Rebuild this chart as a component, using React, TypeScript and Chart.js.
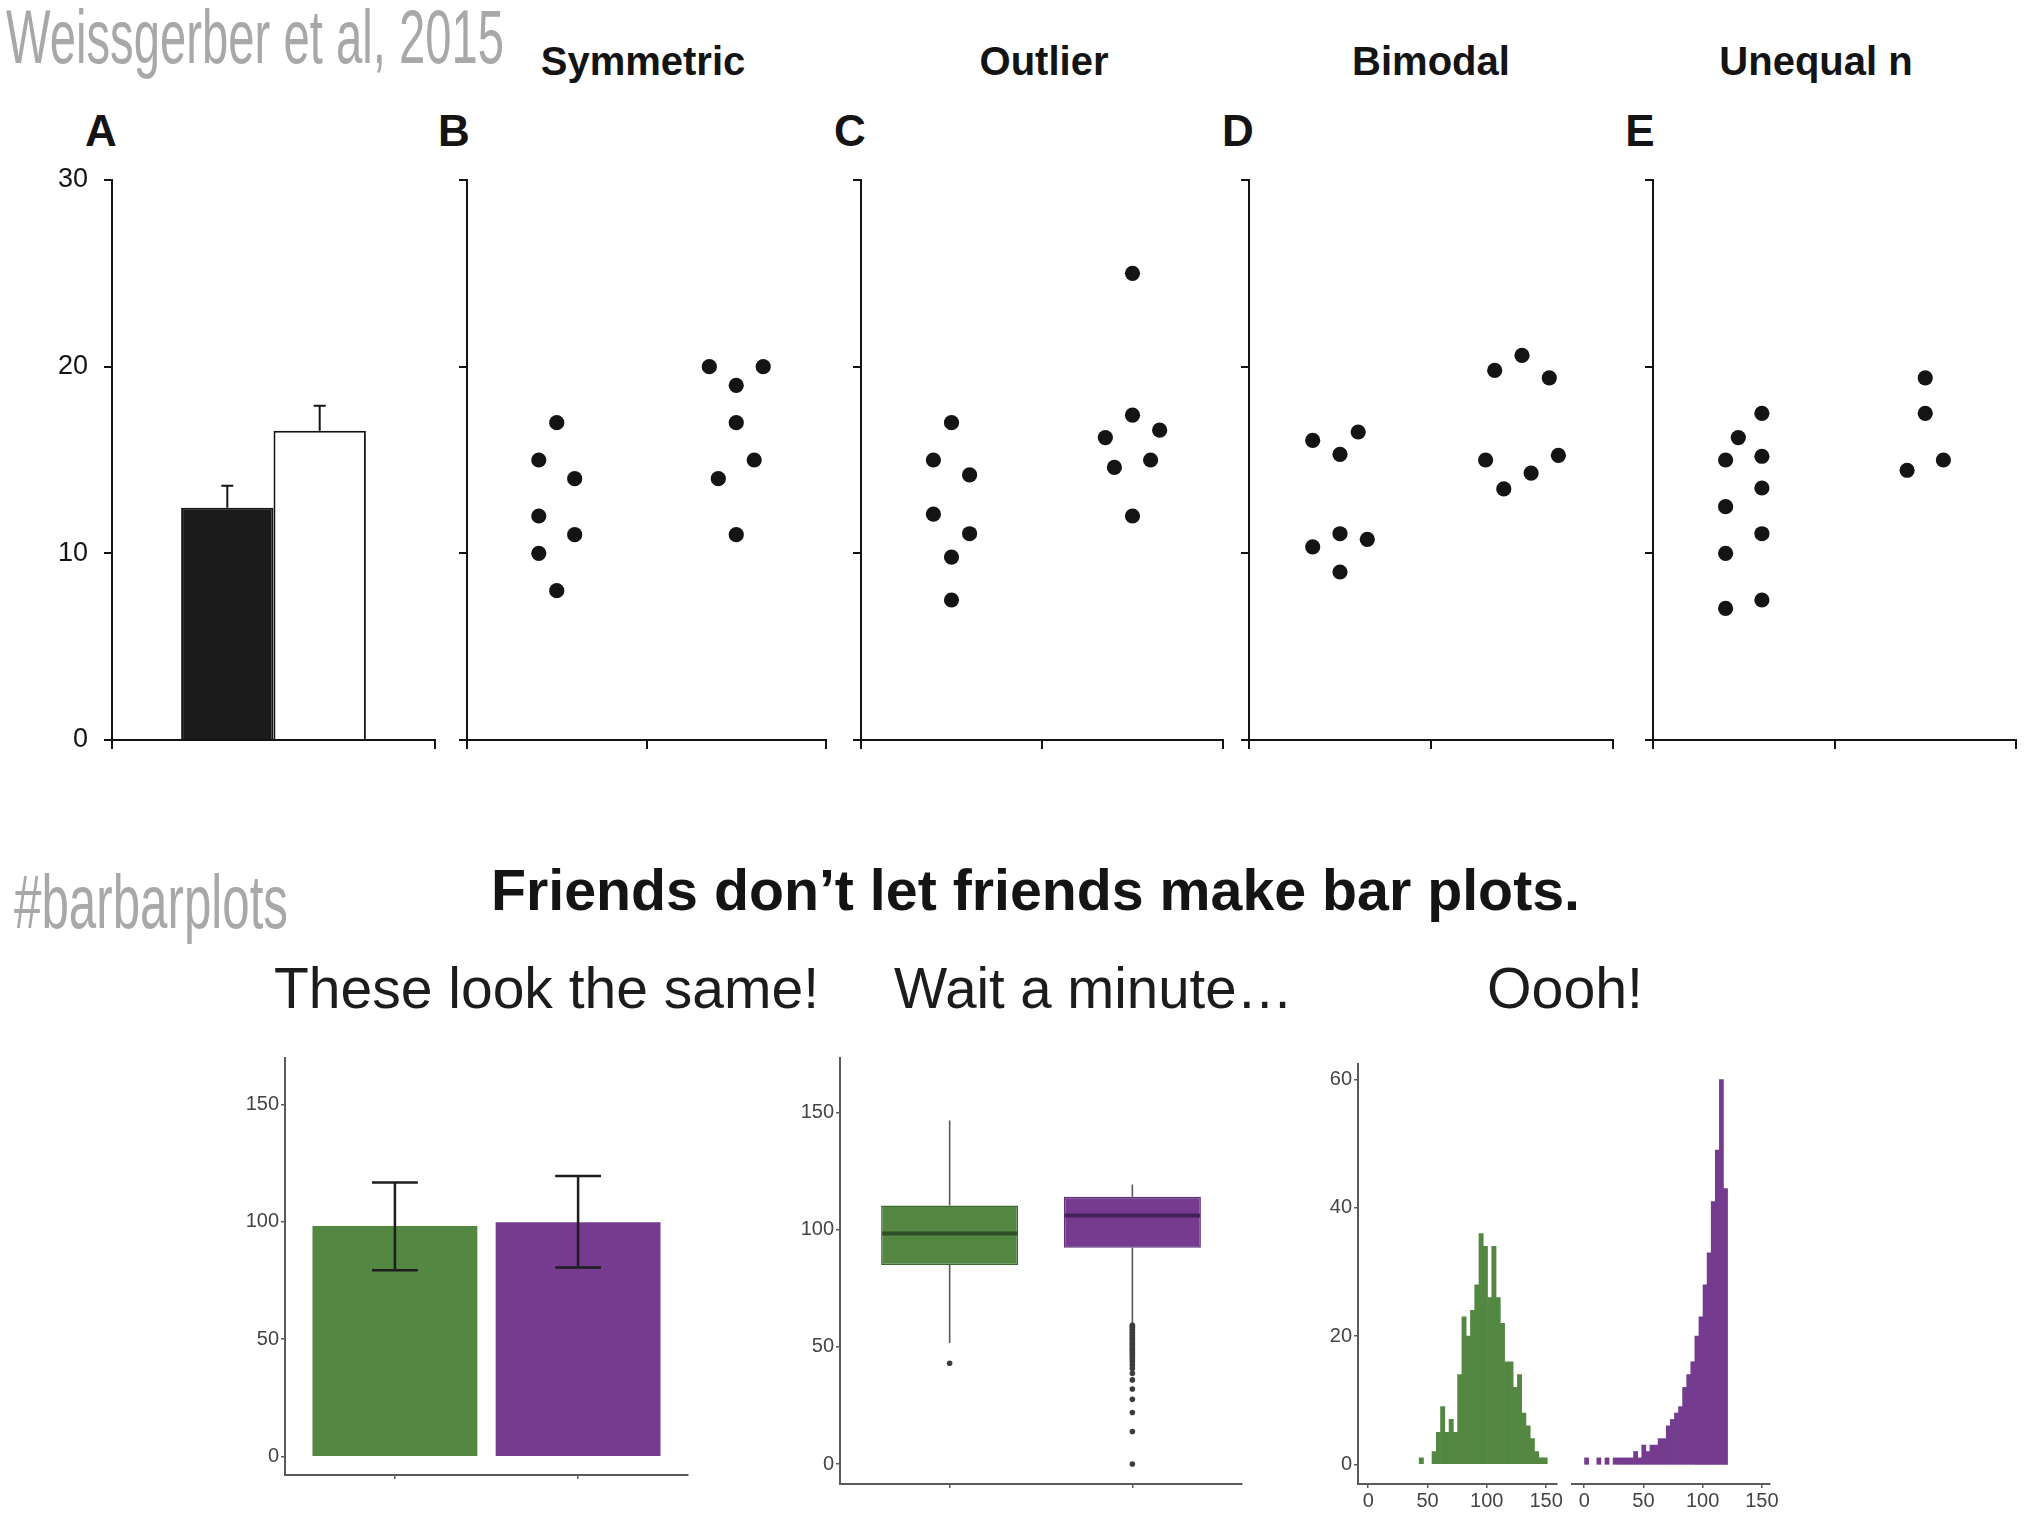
import React, { useEffect, useRef } from "react";
import { Chart, registerables } from "chart.js";

Chart.register(...registerables);

// ---------------- DATA ----------------
const topYTicks = [0, 10, 20, 30];
const scatterXTicks = [0, 1, 2];
const panelTitles = ["Symmetric", "Outlier", "Bimodal", "Unequal n"];
const panelLetters = ["A", "B", "C", "D", "E"];

// Panel A: mean bars with upward SE
const barAGroups = ["Group 1", "Group 2"];
const barAMeans = [12.44, 16.57];
const barASE = [1.18, 1.34];

// Panels B–E: [x (category position with jitter), y]
const symmetricPoints: [number, number][] = [
  [0.5, 17], [0.4, 15], [0.6, 14], [0.4, 12], [0.6, 11], [0.4, 10], [0.5, 8],
  [1.35, 20], [1.65, 20], [1.5, 19], [1.5, 17], [1.6, 15], [1.4, 14], [1.5, 11],
];
const outlierPoints: [number, number][] = [
  [0.5, 17], [0.4, 15], [0.6, 14.2], [0.4, 12.1], [0.6, 11.05], [0.5, 9.8], [0.5, 7.5],
  [1.5, 25], [1.5, 17.4], [1.35, 16.2], [1.65, 16.6], [1.4, 14.6], [1.6, 15], [1.5, 12],
];
const bimodalPoints: [number, number][] = [
  [0.35, 16.05], [0.6, 16.5], [0.5, 15.3], [0.5, 11.05], [0.65, 10.75], [0.35, 10.35], [0.5, 9.0],
  [1.5, 20.6], [1.35, 19.8], [1.65, 19.4], [1.3, 15.0], [1.7, 15.25], [1.55, 14.3], [1.4, 13.45],
];
const unequalPoints: [number, number][] = [
  [0.6, 17.5], [0.47, 16.2], [0.4, 15.0], [0.6, 15.2], [0.6, 13.5], [0.4, 12.5], [0.6, 11.05],
  [0.4, 10.0], [0.6, 7.5], [0.4, 7.05],
  [1.5, 19.4], [1.5, 17.5], [1.4, 14.45], [1.6, 15.0],
];

// Bottom row
const groupNames = ["Normal", "Skewed"];
const meanValues = [98.2, 99.8];
const errLow = [79.4, 80.5];
const errHigh = [116.7, 119.5];
const barYTicks = [0, 50, 100, 150];

const boxQ1 = [84.9, 92.3];
const boxMedian = [98.3, 106.0];
const boxQ3 = [110.3, 114.0];
const whiskerLow = [51.6, 60.0];
const whiskerHigh = [146.5, 119.2];
const outliersGreen = [43.0];
const outliersPurple = [
  59.2, 58.6, 58.1, 57.4, 56.9, 56.1, 55.6, 54.8, 54.2, 53.5, 52.9, 52.1, 51.4, 50.8, 50.0,
  49.3, 48.6, 47.7, 47.0, 46.2, 45.4, 44.5, 43.6, 42.3, 40.8, 38.7, 35.9, 32.0, 27.6, 22.0, 13.9, 0.0,
];

const histYTicks = [0, 20, 40, 60];
const histXTicks = [0, 50, 100, 150];
const greenBinStart = 43.0;
const greenBinWidth = 3.6;
const greenCounts = [1, 0, 0, 2, 5, 9, 5, 7, 5, 14, 23, 20, 24, 28, 36, 34, 26, 34, 26, 22, 16, 16, 12, 14, 8, 6, 4, 2, 1, 1];
const purpleBinStart = 0.3;
const purpleBinWidth = 3.45;
const purpleCounts = [1, 0, 0, 1, 0, 1, 0, 1, 1, 1, 1, 1, 2, 1, 3, 2, 3, 3, 4, 4, 6, 7, 8, 9, 12, 14, 16, 20, 23, 28, 33, 41, 49, 60, 43];

// ---------------- STYLE ----------------
const FONT = "'Liberation Sans', Arial, Helvetica, sans-serif";
const INK = "#141414";
const AXIS_GREY = "#5a5a5a";
const LABEL_GREY = "#444444";
const GREEN = "#548842";
const GREEN_DARK = "#3f6a31";
const GREEN_MED = "#2f4f27";
const PURPLE = "#743b8f";
const PURPLE_DARK = "#5f2e77";
const PURPLE_MED = "#43205a";
const HEADER_GREY = "#a8a8a8";

type Area = { l: number; t: number; r: number; b: number };
type Margin = { l: number; t: number; r: number; b: number };

let measureCtx: CanvasRenderingContext2D | null = null;
function getCtx() {
  if (!measureCtx) measureCtx = document.createElement("canvas").getContext("2d");
  return measureCtx!;
}

function TextAt(props: {
  text: string; x: number; baseline: number; size: number; weight?: number;
  color: string; width?: number; align?: "left" | "center";
}) {
  const { text, x, baseline, size, weight = 400, color, width, align = "left" } = props;
  const ctx = getCtx();
  ctx.font = `${weight} ${size}px ${FONT}`;
  const natural = ctx.measureText(text).width || 1;
  const finalW = width ?? natural;
  const sx = finalW / natural;
  const left = align === "center" ? x - finalW / 2 : x;
  const top = baseline - 0.8465 * size;
  return (
    <div
      style={{
        position: "absolute", left, top, fontFamily: FONT, fontSize: size, fontWeight: weight,
        lineHeight: `${size}px`, color, whiteSpace: "nowrap",
        transform: `scaleX(${sx})`, transformOrigin: "0 0",
      }}
    >
      {text}
    </div>
  );
}

function ChartCanvas({ area, margin, make }: { area: Area; margin: Margin; make: (m: Margin) => any }) {
  const ref = useRef<HTMLCanvasElement | null>(null);
  const w = area.r - area.l + margin.l + margin.r;
  const h = area.b - area.t + margin.t + margin.b;
  useEffect(() => {
    const chart = new Chart(ref.current as HTMLCanvasElement, make(margin));
    return () => chart.destroy();
  }, []);
  return (
    <canvas
      ref={ref}
      width={w}
      height={h}
      style={{ position: "absolute", left: area.l - margin.l, top: area.t - margin.t, width: w, height: h }}
    />
  );
}

function baseOptions(m: Margin, yHidden = false) {
  return {
    responsive: false,
    maintainAspectRatio: false,
    animation: false as const,
    devicePixelRatio: 1,
    events: [] as any[],
    layout: { padding: { left: yHidden ? m.l : 0, top: m.t, right: m.r, bottom: 0 } },
    plugins: { legend: { display: false }, tooltip: { enabled: false }, title: { display: false } },
  };
}

function fixedTicks(values: number[]) {
  return (s: any) => {
    s.ticks = values.map((v) => ({ value: v }));
  };
}

// ---- top row axes ----
function topY(m: Margin, showLabels: boolean) {
  return {
    type: "linear", min: 0, max: 30,
    afterBuildTicks: fixedTicks(topYTicks),
    afterFit: (s: any) => { s.width = m.l; },
    grid: { display: true, drawOnChartArea: false, drawTicks: true, tickLength: 8, color: INK, lineWidth: 2 },
    border: { display: true, color: INK, width: 2 },
    ticks: { display: showLabels, padding: 16, color: INK, font: { family: FONT, size: 27 } },
  };
}

function makePanelA(m: Margin) {
  const errPlugin = {
    id: "errA",
    afterDatasetsDraw(chart: any) {
      const ctx = chart.ctx;
      const y = chart.scales.y;
      ctx.save();
      ctx.strokeStyle = INK;
      ctx.lineWidth = 2;
      chart.data.datasets.forEach((_: any, i: number) => {
        const bar = chart.getDatasetMeta(i).data[0];
        const x = bar.x;
        const y0 = y.getPixelForValue(barAMeans[i]);
        const y1 = y.getPixelForValue(barAMeans[i] + barASE[i]);
        ctx.beginPath();
        ctx.moveTo(x, y0);
        ctx.lineTo(x, y1);
        ctx.moveTo(x - 6, y1);
        ctx.lineTo(x + 6, y1);
        ctx.stroke();
      });
      ctx.restore();
    },
  };
  return {
    type: "bar",
    data: {
      labels: ["A"],
      datasets: [
        { label: barAGroups[0], data: [barAMeans[0]], backgroundColor: "#1b1b1b", borderColor: INK, borderWidth: 2, borderSkipped: "bottom" },
        { label: barAGroups[1], data: [barAMeans[1]], backgroundColor: "#ffffff", borderColor: INK, borderWidth: 2, borderSkipped: "bottom" },
      ],
    },
    options: {
      ...baseOptions(m),
      categoryPercentage: 0.572,
      barPercentage: 1,
      scales: {
        x: {
          type: "category", offset: true,
          afterFit: (s: any) => { s.height = m.b; },
          grid: { display: true, offset: true, drawOnChartArea: false, drawTicks: true, tickLength: 9, color: INK, lineWidth: 2 },
          border: { display: true, color: INK, width: 2 },
          ticks: { display: false },
        },
        y: topY(m, true),
      },
    },
    plugins: [errPlugin],
  };
}

function makeScatterPanel(points: [number, number][]) {
  return (m: Margin) => ({
    type: "scatter",
    data: {
      datasets: [
        {
          data: points.map(([x, y]) => ({ x, y })),
          pointRadius: 7.6,
          pointBackgroundColor: INK,
          pointBorderWidth: 0,
          showLine: false,
        },
      ],
    },
    options: {
      ...baseOptions(m),
      scales: {
        x: {
          type: "linear", min: 0, max: 2,
          afterBuildTicks: fixedTicks(scatterXTicks),
          afterFit: (s: any) => { s.height = m.b; },
          grid: { display: true, drawOnChartArea: false, drawTicks: true, tickLength: 9, color: INK, lineWidth: 2 },
          border: { display: true, color: INK, width: 2 },
          ticks: { display: false },
        },
        y: topY(m, false),
      },
    },
  });
}

// ---- bottom row ----
function bottomY(m: Margin, min: number, max: number, ticks: number[]) {
  return {
    type: "linear", min, max,
    afterBuildTicks: fixedTicks(ticks),
    afterFit: (s: any) => { s.width = m.l; },
    grid: { display: true, drawOnChartArea: false, drawTicks: true, tickLength: 4, color: AXIS_GREY, lineWidth: 1.5 },
    border: { display: true, color: AXIS_GREY, width: 2 },
    ticks: { display: true, padding: 2, color: LABEL_GREY, font: { family: FONT, size: 20 } },
  };
}

function catX(m: Margin) {
  return {
    type: "linear", min: 0.4, max: 2.6, offset: false,
    afterBuildTicks: fixedTicks([1, 2]),
    afterFit: (s: any) => { s.height = m.b; },
    grid: { display: true, offset: false, drawOnChartArea: false, drawTicks: true, tickLength: 4, color: AXIS_GREY, lineWidth: 1.5 },
    border: { display: true, color: AXIS_GREY, width: 2 },
    ticks: { display: false },
  };
}

function makeMeanBars(m: Margin) {
  const errPlugin = {
    id: "errBars",
    afterDatasetsDraw(chart: any) {
      const ctx = chart.ctx;
      const xs = chart.scales.x;
      const ys = chart.scales.y;
      ctx.save();
      ctx.strokeStyle = "#1e1e1e";
      ctx.lineWidth = 2.5;
      groupNames.forEach((_, i) => {
        const x = xs.getPixelForValue(i + 1);
        const half = (xs.getPixelForValue(i + 1.125) - xs.getPixelForValue(i + 0.875)) / 2;
        const yl = ys.getPixelForValue(errLow[i]);
        const yh = ys.getPixelForValue(errHigh[i]);
        ctx.beginPath();
        ctx.moveTo(x, yl); ctx.lineTo(x, yh);
        ctx.moveTo(x - half, yl); ctx.lineTo(x + half, yl);
        ctx.moveTo(x - half, yh); ctx.lineTo(x + half, yh);
        ctx.stroke();
      });
      ctx.restore();
    },
  };
  return {
    type: "bar",
    data: {
      datasets: [
        {
          data: groupNames.map((_, i) => ({ x: i + 1, y: meanValues[i] })),
          backgroundColor: [GREEN, PURPLE],
          borderWidth: 0,
        },
      ],
    },
    options: {
      ...baseOptions(m),
      categoryPercentage: 0.9,
      barPercentage: 1,
      scales: { x: catX(m), y: bottomY(m, -7.8, 169.7, barYTicks) },
    },
    plugins: [errPlugin],
  };
}

function makeBoxPlot(m: Margin) {
  const medianColors = [GREEN_MED, PURPLE_MED];
  const boxPlugin = {
    id: "boxExtras",
    beforeDatasetsDraw(chart: any) {
      const ctx = chart.ctx;
      const xs = chart.scales.x;
      const ys = chart.scales.y;
      ctx.save();
      ctx.strokeStyle = "#585858";
      ctx.lineWidth = 1.6;
      groupNames.forEach((_, i) => {
        const x = xs.getPixelForValue(i + 1);
        ctx.beginPath();
        ctx.moveTo(x, ys.getPixelForValue(boxQ3[i]));
        ctx.lineTo(x, ys.getPixelForValue(whiskerHigh[i]));
        ctx.moveTo(x, ys.getPixelForValue(boxQ1[i]));
        ctx.lineTo(x, ys.getPixelForValue(whiskerLow[i]));
        ctx.stroke();
      });
      ctx.restore();
    },
    afterDatasetsDraw(chart: any) {
      const ctx = chart.ctx;
      const xs = chart.scales.x;
      const ys = chart.scales.y;
      ctx.save();
      ctx.lineWidth = 4;
      groupNames.forEach((_, i) => {
        const x0 = xs.getPixelForValue(i + 1 - 0.375);
        const x1 = xs.getPixelForValue(i + 1 + 0.375);
        const y = ys.getPixelForValue(boxMedian[i]);
        ctx.strokeStyle = medianColors[i];
        ctx.beginPath();
        ctx.moveTo(x0 + 1, y); ctx.lineTo(x1 - 1, y);
        ctx.stroke();
      });
      ctx.restore();
    },
  };
  return {
    type: "bar",
    data: {
      datasets: [
        {
          type: "bar",
          data: groupNames.map((_, i) => ({ x: i + 1, y: [boxQ1[i], boxQ3[i]] })),
          backgroundColor: [GREEN, PURPLE],
          borderColor: [GREEN_DARK, PURPLE_DARK],
          borderWidth: 1.5,
          borderSkipped: false,
          categoryPercentage: 0.75,
          barPercentage: 1,
        },
        {
          type: "scatter",
          data: [
            ...outliersGreen.map((v) => ({ x: 1, y: v })),
            ...outliersPurple.map((v) => ({ x: 2, y: v })),
          ],
          pointRadius: 2.8,
          pointBackgroundColor: "#3c3c3c",
          pointBorderWidth: 0,
          showLine: false,
        },
      ],
    },
    options: {
      ...baseOptions(m),
      scales: { x: catX(m), y: bottomY(m, -8.5, 173.2, barYTicks) },
    },
    plugins: [boxPlugin],
  };
}

function makeHistogram(counts: number[], start: number, width: number, color: string, xMin: number, xMax: number, showY: boolean) {
  return (m: Margin) => {
    const pts = counts
      .map((c, i) => ({ x: start + (i + 0.5) * width, y: c }))
      .filter((p) => p.y > 0);
    const y: any = bottomY(m, -3.07, 62.44, histYTicks);
    if (!showY) y.display = false;
    return {
      type: "bar",
      data: {
        datasets: [
          { data: pts, backgroundColor: color, borderWidth: 0, categoryPercentage: 1, barPercentage: 1 },
        ],
      },
      options: {
        ...baseOptions(m, !showY),
        scales: {
          x: {
            type: "linear", min: xMin, max: xMax, offset: false,
            afterBuildTicks: fixedTicks(histXTicks),
            afterFit: (s: any) => { s.height = m.b; },
            grid: { display: true, offset: false, drawOnChartArea: false, drawTicks: true, tickLength: 4, color: AXIS_GREY, lineWidth: 1.5 },
            border: { display: true, color: AXIS_GREY, width: 2 },
            ticks: { display: true, padding: 1, color: LABEL_GREY, maxRotation: 0, autoSkip: false, font: { family: FONT, size: 20 } },
          },
          y,
        },
      },
    };
  };
}

// ---------------- APP ----------------
const topT = 180;
const topB = 740;
const scatterMargin: Margin = { l: 20, t: 24, r: 14, b: 24 };

export default function App() {
  return (
    <div style={{ position: "absolute", left: 0, top: 0, width: 2028, height: 1518, background: "#ffffff", overflow: "hidden" }}>
      {/* headers */}
      <TextAt text="Weissgerber et al, 2015" x={6} baseline={63} size={76} color={HEADER_GREY} width={498} />
      <TextAt text={panelTitles[0]} x={643} baseline={75} size={40} weight={700} color={INK} align="center" />
      <TextAt text={panelTitles[1]} x={1044} baseline={75} size={40} weight={700} color={INK} align="center" />
      <TextAt text={panelTitles[2]} x={1431} baseline={75} size={40} weight={700} color={INK} align="center" />
      <TextAt text={panelTitles[3]} x={1816} baseline={75} size={40} weight={700} color={INK} align="center" />
      <TextAt text={panelLetters[0]} x={101} baseline={146} size={44} weight={700} color={INK} align="center" />
      <TextAt text={panelLetters[1]} x={454} baseline={146} size={44} weight={700} color={INK} align="center" />
      <TextAt text={panelLetters[2]} x={850} baseline={146} size={44} weight={700} color={INK} align="center" />
      <TextAt text={panelLetters[3]} x={1238} baseline={146} size={44} weight={700} color={INK} align="center" />
      <TextAt text={panelLetters[4]} x={1640} baseline={146} size={44} weight={700} color={INK} align="center" />

      {/* top row charts */}
      <ChartCanvas area={{ l: 112, t: topT, r: 435, b: topB }} margin={{ l: 100, t: 44, r: 14, b: 44 }} make={makePanelA} />
      <ChartCanvas area={{ l: 467, t: topT, r: 826, b: topB }} margin={scatterMargin} make={makeScatterPanel(symmetricPoints)} />
      <ChartCanvas area={{ l: 861, t: topT, r: 1223, b: topB }} margin={scatterMargin} make={makeScatterPanel(outlierPoints)} />
      <ChartCanvas area={{ l: 1249, t: topT, r: 1613, b: topB }} margin={scatterMargin} make={makeScatterPanel(bimodalPoints)} />
      <ChartCanvas area={{ l: 1653, t: topT, r: 2016, b: topB }} margin={{ l: 20, t: 24, r: 8, b: 24 }} make={makeScatterPanel(unequalPoints)} />

      {/* middle texts */}
      <TextAt text="#barbarplots" x={14} baseline={928} size={76} color={HEADER_GREY} width={274} />
      <TextAt text="Friends don’t let friends make bar plots." x={491} baseline={910} size={58} weight={700} color={INK} width={1089} />
      <TextAt text="These look the same!" x={274} baseline={1008} size={57} color="#1c1c1c" width={545} />
      <TextAt text="Wait a minute…" x={894} baseline={1008} size={57} color="#1c1c1c" width={399} />
      <TextAt text="Oooh!" x={1487} baseline={1008} size={57} color="#1c1c1c" width={156} />

      {/* bottom row charts */}
      <ChartCanvas area={{ l: 285, t: 1058, r: 688, b: 1475 }} margin={{ l: 60, t: 20, r: 20, b: 20 }} make={makeMeanBars} />
      <ChartCanvas area={{ l: 840, t: 1058, r: 1242, b: 1484 }} margin={{ l: 60, t: 20, r: 20, b: 20 }} make={makeBoxPlot} />
      <ChartCanvas
        area={{ l: 1358, t: 1064, r: 1560, b: 1484 }}
        margin={{ l: 50, t: 20, r: 4, b: 30 }}
        make={makeHistogram(greenCounts, greenBinStart, greenBinWidth, GREEN, -8.6, 158.6, true)}
      />
      <ChartCanvas
        area={{ l: 1568, t: 1064, r: 1770, b: 1484 }}
        margin={{ l: 4, t: 20, r: 24, b: 30 }}
        make={makeHistogram(purpleCounts, purpleBinStart, purpleBinWidth, PURPLE, -10.3, 156.9, false)}
      />
    </div>
  );
}
